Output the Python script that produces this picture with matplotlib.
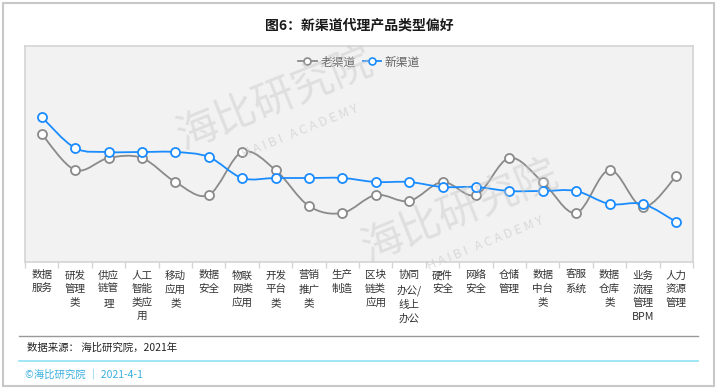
import matplotlib
matplotlib.use('Agg')
import matplotlib.pyplot as plt
from matplotlib.path import Path
from matplotlib.patches import PathPatch, Rectangle
from matplotlib.lines import Line2D
import numpy as np

plt.rcParams['font.family'] = ['Noto Sans CJK SC', 'DejaVu Sans']

categories = ['数据\n服务', '研发\n管理\n类', '供应\n链管\n理', '人工\n智能\n类应\n用', '移动\n应用\n类',
              '数据\n安全', '物联\n网类\n应用', '开发\n平台\n类', '营销\n推广\n类', '生产\n制造',
              '区块\n链类\n应用', '协同\n办公/\n线上\n办公', '硬件\n安全', '网络\n安全', '仓储\n管理',
              '数据\n中台\n类', '客服\n系统', '数据\n仓库\n类', '业务\n流程\n管理\nBPM', '人力\n资源\n管理']
old_channel = [12.8, 9.2, 10.4, 10.4, 8.0, 6.7, 11.0, 9.2, 5.6, 4.9,
               6.7, 6.1, 8.0, 6.7, 10.4, 8.0, 4.9, 9.2, 5.5, 8.6]
new_channel = [14.5, 11.4, 11.0, 11.0, 11.0, 10.5, 8.4, 8.4, 8.4, 8.4,
               8.0, 8.0, 7.5, 7.5, 7.1, 7.1, 7.1, 5.8, 5.8, 4.0]
series_names = ['老渠道', '新渠道']

GRAY = '#8a8a8a'
BLUE = '#1a8cff'


def smooth_path(x, y, t=1 / 6):
    # catmull-rom -> bezier, just for the look of the lines
    n = len(x)
    verts = [(x[0], y[0])]
    codes = [Path.MOVETO]
    for i in range(n - 1):
        p0 = i - 1 if i > 0 else i
        p3 = i + 2 if i + 2 < n else i + 1
        c1 = (x[i] + (x[i + 1] - x[p0]) * t, y[i] + (y[i + 1] - y[p0]) * t)
        c2 = (x[i + 1] - (x[p3] - x[i]) * t, y[i + 1] - (y[p3] - y[i]) * t)
        verts += [c1, c2, (x[i + 1], y[i + 1])]
        codes += [Path.CURVE4] * 3
    return Path(verts, codes)


W, H = 718, 389
fig = plt.figure(figsize=(W / 100, H / 100), dpi=100)
fig.patches.append(Rectangle((3 / W, 3 / H), 711 / W, 383 / H, transform=fig.transFigure,
                             fill=False, edgecolor='#c8c8c8', linewidth=1.5))

ax = fig.add_axes([25 / W, 1 - 262 / H, 668 / W, 216 / H])
ax.set_facecolor('#f2f2f2')
for s in ax.spines.values():
    s.set_color('#d4d4d4')
    s.set_linewidth(1.2)

x = np.arange(len(categories))
for vals, col in [(old_channel, GRAY), (new_channel, BLUE)]:
    ax.add_patch(PathPatch(smooth_path(x, vals), fill=False, edgecolor=col, linewidth=1.3, zorder=3))
    ax.plot(x, vals, linestyle='none', marker='o', markersize=6.5, markerfacecolor='white',
            markeredgecolor=col, markeredgewidth=1.3, zorder=4)

ax.set_xlim(-0.5, len(categories) - 0.5)
ax.set_ylim(0, 21.6)
ax.set_yticks([])
ax.set_xticks(x)
ax.set_xticklabels(categories, fontsize=7.6, color='#333333', linespacing=1.45, va='top')
ax.tick_params(axis='x', which='major', length=0, pad=6)
ax.set_xticks(np.arange(-0.5, len(categories)), minor=True)
ax.tick_params(axis='x', which='minor', length=4, color='#d4d4d4', width=1)

# legend
handles = [Line2D([], [], color=c, linewidth=1.3, marker='o', markersize=5, markerfacecolor='white',
                  markeredgecolor=c, markeredgewidth=1.2) for c in (GRAY, BLUE)]
ax.legend(handles, series_names, loc='upper center', bbox_to_anchor=(0.5, 1.005), ncol=2, frameon=False,
          fontsize=8.5, labelcolor='#666666', handlelength=1.6, handletextpad=0.3, columnspacing=0.6)

# watermarks
for (wx, wy) in [(275, 100), (460, 212)]:
    fig.text(wx / W, 1 - wy / H, '海比研究院', fontsize=30, color='#c8c8c8', alpha=0.45, rotation=22,
             ha='center', va='center', zorder=0)
    fig.text((wx + 25) / W, 1 - (wy + 32) / H, 'H A I B I   A C A D E M Y', fontsize=9, color='#c8c8c8',
             alpha=0.6, rotation=22, ha='center', va='center', zorder=0)

fig.text(359 / W, 1 - 26 / H, '图6：新渠道代理产品类型偏好', fontsize=10, fontweight='bold',
         color='#1a1a1a', ha='center', va='center')

fig.add_artist(Line2D([19 / W, 698 / W], [1 - 336 / H, 1 - 336 / H], color='#999999', linewidth=1))
fig.text(27 / W, 1 - 348 / H, '数据来源： 海比研究院，2021年', fontsize=7.5, color='#222222', va='center')
fig.add_artist(Line2D([19 / W, 698 / W], [1 - 361 / H, 1 - 361 / H], color='#8fe0f5', linewidth=1.2))
fig.text(25 / W, 1 - 375 / H, '©海比研究院 ｜ 2021-4-1', fontsize=7.5, color='#3ab0e0', va='center')

fig.savefig('out.png', dpi=100)
